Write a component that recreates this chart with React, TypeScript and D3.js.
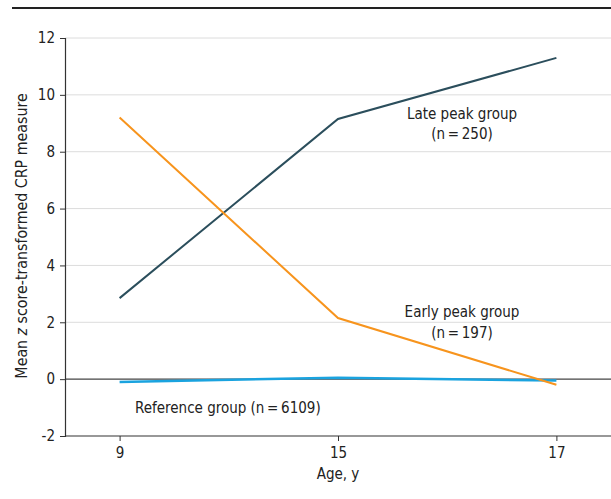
import React, { useEffect, useRef } from 'react';
import * as d3 from 'd3';

const ages = ['9', '15', '17'];
const latePeak = [2.85, 9.15, 11.3];
const earlyPeak = [9.2, 2.15, -0.2];
const reference = [-0.1, 0.05, -0.05];
const yTicks = [-2, 0, 2, 4, 6, 8, 10, 12];

const W = 611, H = 499;
const FONT = '"Liberation Sans Narrow", "DejaVu Sans Condensed", "Open Sans", sans-serif';
const THIN = '\u2009';

export default function App() {
  const ref = useRef<SVGSVGElement>(null);

  useEffect(() => {
    const svg = d3.select(ref.current);
    svg.selectAll('*').remove();

    const left = 65, right = 611, top = 38, bottom = 436;

    const x = d3.scalePoint<string>().domain(ages).range([left, right]).padding(0.25);
    const y = d3.scaleLinear().domain([-2, 12]).range([bottom, top]);

    // rule at top
    svg.append('line')
      .attr('x1', 12).attr('x2', W).attr('y1', 8).attr('y2', 8)
      .attr('stroke', '#222').attr('stroke-width', 2);

    // gridlines
    svg.append('g').selectAll('line')
      .data(yTicks.filter(d => d > 0))
      .enter().append('line')
      .attr('x1', left).attr('x2', right)
      .attr('y1', d => y(d)).attr('y2', d => y(d))
      .attr('stroke', '#dcdcdc').attr('stroke-width', 1);

    // zero line
    svg.append('line')
      .attr('x1', left).attr('x2', right)
      .attr('y1', y(0)).attr('y2', y(0))
      .attr('stroke', '#444').attr('stroke-width', 1.2);

    // y axis
    const yAxis = svg.append('g')
      .attr('transform', `translate(${left},0)`)
      .call(d3.axisLeft(y).tickValues(yTicks).tickSize(5).tickPadding(5).tickFormat(d => String(d)));
    yAxis.select('.domain').attr('stroke', '#333').attr('stroke-width', 1.2);
    yAxis.selectAll('.tick line').attr('stroke', '#333');
    yAxis.selectAll('text').attr('font-family', FONT).attr('font-size', 15).attr('fill', '#222');

    // x axis
    const xAxis = svg.append('g')
      .attr('transform', `translate(0,${bottom})`)
      .call(d3.axisBottom(x).tickSize(5).tickPadding(6));
    xAxis.select('.domain').attr('stroke', '#333').attr('stroke-width', 1.2)
      .attr('d', `M${left},0H${right}`);
    xAxis.selectAll('.tick line').attr('stroke', '#333');
    xAxis.selectAll('text').attr('font-family', FONT).attr('font-size', 15).attr('fill', '#222');

    const line = d3.line<number>()
      .x((_, i) => x(ages[i]) as number)
      .y(d => y(d));

    const series = [
      { values: reference, color: '#1aa3df', width: 2.5 },
      { values: latePeak, color: '#2b4e5c', width: 2 },
      { values: earlyPeak, color: '#f7941d', width: 2 },
    ];
    svg.append('g').selectAll('path')
      .data(series)
      .enter().append('path')
      .attr('d', d => line(d.values))
      .attr('fill', 'none')
      .attr('stroke', d => d.color)
      .attr('stroke-width', d => d.width);

    const labels = [
      { text: 'Late peak group', x: 462, y: 119, anchor: 'middle' },
      { text: `(n${THIN}=${THIN}250)`, x: 462, y: 139, anchor: 'middle' },
      { text: 'Early peak group', x: 462, y: 317, anchor: 'middle' },
      { text: `(n${THIN}=${THIN}197)`, x: 462, y: 338, anchor: 'middle' },
      { text: `Reference group (n${THIN}=${THIN}6109)`, x: 135, y: 413, anchor: 'start' },
    ];
    svg.append('g').selectAll('text')
      .data(labels)
      .enter().append('text')
      .attr('x', d => d.x).attr('y', d => d.y)
      .attr('text-anchor', d => d.anchor)
      .attr('font-family', FONT).attr('font-size', 15).attr('fill', '#222')
      .text(d => d.text);

    svg.append('text')
      .attr('x', x('15') as number).attr('y', 479)
      .attr('text-anchor', 'middle')
      .attr('font-family', FONT).attr('font-size', 15).attr('fill', '#222')
      .text('Age, y');

    const yl = svg.append('text')
      .attr('transform', `translate(27,236) rotate(-90)`)
      .attr('text-anchor', 'middle')
      .attr('font-family', FONT).attr('font-size', 15.8).attr('fill', '#222');
    yl.append('tspan').text('Mean ');
    yl.append('tspan').attr('font-style', 'italic').text('z');
    yl.append('tspan').text(' score-transformed CRP measure');
  }, []);

  return (
    <svg ref={ref} width={W} height={H}
      style={{ position: 'absolute', left: 0, top: 0, background: '#fff' }} />
  );
}
